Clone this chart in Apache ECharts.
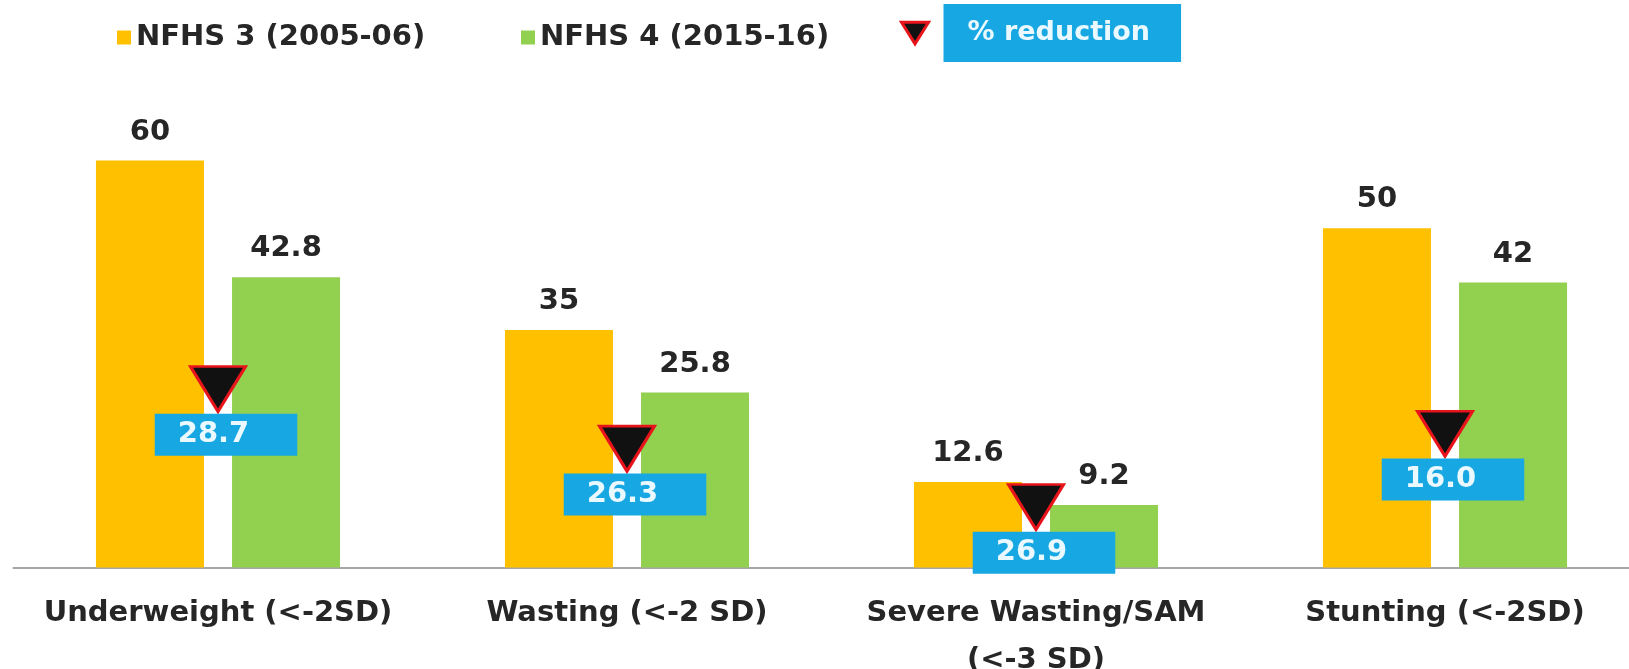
<!DOCTYPE html>
<html>
<head>
<meta charset="utf-8">
<script src="https://cdn.jsdelivr.net/npm/echarts@6/dist/echarts.min.js"></script>
<style>
  html, body { margin: 0; padding: 0; background: #fff; }
  #chart { width: 1629px; height: 669px; }
</style>
</head>
<body>
<div id="chart"></div>
<script>
const categories = ['Underweight (<-2SD)', 'Wasting (<-2 SD)', 'Severe Wasting/SAM\n(<-3 SD)', 'Stunting (<-2SD)']
const nfhs3 = [60, 35, 12.6, 50]
const nfhs4 = [42.8, 25.8, 9.2, 42]
const reductionPct = [28.7, 26.3, 26.9, 16.0]
// height (in axis units) where each reduction marker points to
const markerLevel = [23.0, 14.2, 5.6, 16.4]

const FONT = 'DejaVu Sans'
const YELLOW = '#ffc000'
const GREEN = '#92d050'
const BLUE = '#17a8e3'
const TRI = 'path://M0,0 L20,0 L10,16 Z'

const chart = echarts.init(document.getElementById('chart'))

const legendText = { fontFamily: FONT, fontWeight: 'bold', fontSize: 29, color: '#262626' }

chart.setOption({
  animation: false,
  backgroundColor: '#fff',
  legend: [
    {
      left: 117, top: 23, padding: 0,
      itemWidth: 14, itemHeight: 14,
      data: [{ name: 'NFHS 3 (2005-06)', icon: 'rect' }],
      textStyle: legendText,
    },
    {
      left: 521, top: 23, padding: 0,
      itemWidth: 14, itemHeight: 14,
      data: [{ name: 'NFHS 4 (2015-16)', icon: 'rect' }],
      textStyle: legendText,
    },
    {
      left: 900, top: 4, padding: 0,
      itemWidth: 27, itemHeight: 25,
      data: [{ name: '% reduction', icon: TRI, itemStyle: { color: '#111', borderColor: '#e8141b', borderWidth: 3 } }],
      formatter: n => '{gap|}{box|' + n + '}',
      textStyle: {
        rich: {
          gap: { width: 10 },
          box: {
            fontFamily: FONT, fontWeight: 'bold', fontSize: 27, color: '#eaf8ff',
            backgroundColor: BLUE, height: 58, lineHeight: 58, padding: [0, 31, 0, 24],
          },
        },
      },
    },
  ],
  grid: { left: 13.5, top: 160.5, width: 1636, height: 407, outerBoundsMode: 'none' },
  xAxis: {
    type: 'category',
    data: categories,
    axisLine: { lineStyle: { color: '#a6a6a6', width: 2 } },
    axisTick: { show: false },
    axisLabel: {
      interval: 0,
      margin: 22,
      fontFamily: FONT, fontWeight: 'bold', fontSize: 29, lineHeight: 47, color: '#262626',
    },
  },
  yAxis: { type: 'value', min: 0, max: 60, show: false, splitLine: { show: false } },
  series: [
    {
      name: 'NFHS 3 (2005-06)',
      type: 'bar',
      data: nfhs3,
      barWidth: 108,
      barGap: '26%',
      itemStyle: { color: YELLOW },
      label: {
        show: true, position: 'top', distance: 14,
        fontFamily: FONT, fontWeight: 'bold', fontSize: 29, lineHeight: 29, color: '#262626',
      },
    },
    {
      name: 'NFHS 4 (2015-16)',
      type: 'bar',
      data: nfhs4,
      barWidth: 108,
      barGap: '26%',
      itemStyle: { color: GREEN },
      label: {
        show: true, position: 'top', distance: 14,
        fontFamily: FONT, fontWeight: 'bold', fontSize: 29, lineHeight: 29, color: '#262626',
      },
    },
    {
      name: '% reduction',
      type: 'scatter',
      z: 5,
      data: markerLevel.map((v, i) => [i, v]),
      symbol: TRI,
      symbolSize: [55, 45],
      symbolOffset: [0, -22.5],
      itemStyle: { color: '#111', borderColor: '#e8141b', borderWidth: 3, opacity: 1 },
      emphasis: { disabled: true },
      label: {
        show: true,
        position: 'bottom',
        distance: 1,
        offset: [8, 0],
        formatter: p => reductionPct[p.dataIndex].toFixed(1),
        fontFamily: FONT, fontWeight: 'bold', fontSize: 29, color: '#eaf8ff',
        backgroundColor: BLUE,
        lineHeight: 42,
        padding: [0, 48, 0, 23],
      },
    },
  ],
})
</script>
</body>
</html>
